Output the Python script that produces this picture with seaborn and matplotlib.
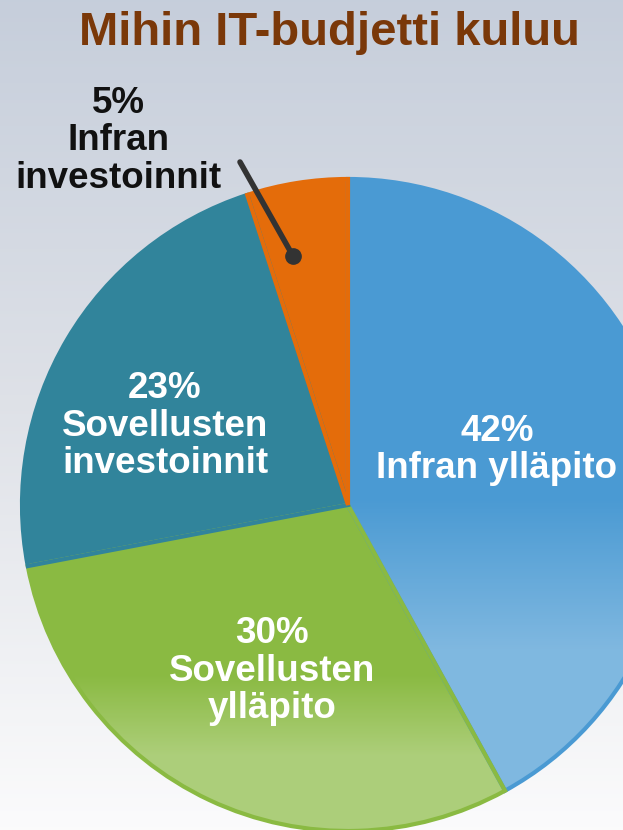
import matplotlib
matplotlib.use("Agg")

import matplotlib.pyplot as plt
import numpy as np
import seaborn as sns
from matplotlib.patches import Wedge


# shares, clockwise from 12 o'clock
CATEGORIES = [
    "Infran ylläpito",
    "Sovellusten ylläpito",
    "Sovellusten investoinnit",
    "Infran investoinnit",
]
SHARES = [42, 30, 23, 5]
LABELS = [
    "42%\nInfran ylläpito",
    "30%\nSovellusten\nylläpito",
    "23%\nSovellusten\ninvestoinnit",
    "5%\nInfran\ninvestoinnit",
]
TITLE = "Mihin IT-budjetti kuluu"

COLORS = ["#4a9ad3", "#8aba42", "#31849b", "#e46c0a"]
TEXT_COLORS = ["white", "white", "white", "#111111"]
SHEEN = [True, True, False, False]
# label centres in pixel space (x, y from top)
LABEL_POS = [(497, 450), (272, 671), (165, 426), (118, 141)]

W, H = 623, 830
CENTER = (348, H - 505)
RADIUS = 326

sns.set_theme(style="white")
plt.rcParams["font.family"] = ["Liberation Sans", "DejaVu Sans"]

fig = plt.figure(figsize=(W / 100, H / 100), dpi=100)
ax = fig.add_axes([0, 0, 1, 1])

# page background: grey-blue at the top fading to white
top = np.array([0.776, 0.808, 0.859])
mid = np.array([0.875, 0.886, 0.910])
bottom = np.array([0.985, 0.985, 0.988])
t = np.linspace(0, 1, 256)[:, None]
grad = np.where(t < 0.5, top + (mid - top) * (t / 0.5),
                mid + (bottom - mid) * ((t - 0.5) / 0.5))
ax.imshow(grad[:, None, :], extent=(0, W, 0, H), aspect="auto", zorder=0)

wedges, _ = ax.pie(
    SHARES,
    colors=COLORS,
    startangle=90,
    counterclock=False,
    center=CENTER,
    radius=RADIUS,
    frame=True,
    wedgeprops={"linewidth": 0, "zorder": 1},
)
ax.set_xlim(0, W)
ax.set_ylim(0, H)
ax.set_aspect("equal")
ax.axis("off")

# lighter sheen on the lower part of the two big slices
for w, shine in zip(wedges, SHEEN):
    if not shine:
        continue
    ext = w.get_path().get_extents()
    span = ext.y1 - ext.y0
    y = np.linspace(ext.y1, ext.y0, 300)
    frac = (ext.y1 - y) / span
    sheen = np.ones((300, 1, 4))
    sheen[:, 0, 3] = np.clip((frac - 0.52) / 0.25, 0, 1) * 0.30
    im = ax.imshow(sheen, extent=(ext.x0, ext.x1, ext.y0, ext.y1),
                   aspect="auto", zorder=2)
    im.set_clip_path(w)

ax.set_xlim(0, W)
ax.set_ylim(0, H)

# rims in the slice colour
for w, c in zip(wedges, COLORS):
    ax.add_patch(Wedge(w.center, w.r, w.theta1, w.theta2,
                       fill=False, edgecolor=c, linewidth=3, zorder=3))

for text, (px, py), tc in zip(LABELS, LABEL_POS, TEXT_COLORS):
    ax.text(px, H - py, text, ha="center", va="center", color=tc,
            fontsize=26.5, fontweight="bold", linespacing=1.1, zorder=5)

# leader line for the small slice
ax.plot([240, 293], [H - 162, H - 256], color="#333333", linewidth=4,
        solid_capstyle="round", zorder=4)
ax.plot([293], [H - 256], "o", color="#333333", markersize=11, zorder=4)

ax.text(329, H - 33, TITLE, ha="center", va="center", color="#7a3809",
        fontsize=34, fontweight="bold", zorder=5)

fig.savefig("out.png", dpi=100)
